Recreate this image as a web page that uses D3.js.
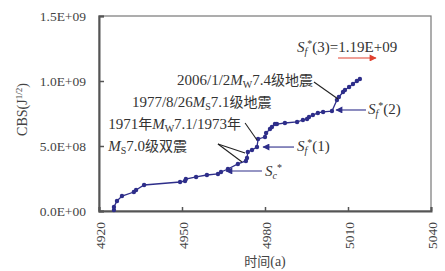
<!DOCTYPE html>
<html>
<head>
<meta charset="utf-8">
<script src="https://cdn.jsdelivr.net/npm/d3@7"></script>
<style>
  body { margin: 0; background: #fff; }
  text { font-family: "Liberation Serif", "Noto Sans CJK SC", serif; }
</style>
</head>
<body>
<svg id="chart" width="445" height="271"></svg>
<script>
// CBS curve
const years = [4925.4, 4925.4, 4926.5, 4928.3, 4932.6, 4933.4, 4936.3, 4949.3, 4951.1, 4951.4,
  4955.1, 4959.0, 4963.0, 4964.1, 4966.6, 4970.2, 4973.1, 4973.5, 4973.8, 4975.3,
  4977.1, 4977.5, 4980.0, 4980.4, 4981.8, 4982.5, 4983.6, 4984.3, 4987.2, 4991.6,
  4993.7, 4995.2, 4995.9, 4997.3, 4999.1, 5001.0, 5004.2, 5006.0, 5006.7, 5008.2,
  5008.9, 5010.4, 5011.8, 5013.2, 5014.3];
const cbs = [0.08, 0.31, 0.77, 1.15, 1.46, 1.62, 2.0, 2.23, 2.31, 2.46,
  2.62, 2.77, 2.85, 3.0, 3.23, 3.62, 3.85, 4.08, 4.54, 4.69,
  4.92, 5.54, 5.69, 6.0, 6.31, 6.46, 6.69, 6.69, 6.77, 6.85,
  7.0, 7.08, 7.23, 7.38, 7.54, 7.62, 7.69, 8.54, 8.77, 9.15,
  9.31, 9.54, 9.77, 10.0, 10.15].map(v => v * 1e8);

const xTicks = [4920, 4950, 4980, 5010, 5040];
const yTicks = [0, 5e8, 1e9, 1.5e9];
const yTickLabels = ["0.0E+00", "5.0E+08", "1.0E+09", "1.5E+09"];

const svg = d3.select("#chart");
const mLeft = 99, mRight = 431, mTop = 16, mBottom = 211;
const x = d3.scaleLinear().domain([4920, 5040]).range([mLeft, mRight]);
const y = d3.scaleLinear().domain([0, 1.5e9]).range([mBottom, mTop]);

const blue = "#2e2e8a";
const axisCol = "#555";

// frame
svg.append("rect")
  .attr("x", mLeft).attr("y", mTop)
  .attr("width", mRight - mLeft).attr("height", mBottom - mTop)
  .attr("fill", "none").attr("stroke", "#777").attr("stroke-width", 1.2);

// axes (ticks inward)
const xAxis = svg.append("g").attr("transform", `translate(0,${mBottom})`)
  .call(d3.axisTop(x).tickValues(xTicks).tickSize(4).tickFormat(""));
const yAxis = svg.append("g").attr("transform", `translate(${mLeft},0)`)
  .call(d3.axisRight(y).tickValues(yTicks).tickSize(5).tickFormat(""));
[xAxis, yAxis].forEach(g => {
  g.select(".domain").attr("stroke", axisCol).attr("stroke-width", 2);
  g.selectAll(".tick line").attr("stroke", axisCol).attr("stroke-width", 1.5);
});

// tick labels
svg.selectAll(".ylab").data(yTicks).enter().append("text")
  .attr("x", mLeft - 13).attr("y", d => y(d) + 4.5)
  .attr("text-anchor", "end").attr("font-size", 13.5).attr("fill", "#444")
  .text((d, i) => yTickLabels[i]);
svg.selectAll(".xlab").data(xTicks).enter().append("text")
  .attr("transform", d => `translate(${x(d) + 6},${mBottom + 11}) rotate(-90)`)
  .attr("text-anchor", "end").attr("font-size", 13.5).attr("fill", "#444")
  .text(d => d);

// axis titles
const xt = svg.append("text").attr("x", (mLeft + mRight) / 2).attr("y", 266)
  .attr("text-anchor", "middle").attr("font-size", 14).attr("fill", "#444");
xt.append("tspan").attr("font-size", 13).text("时间");
xt.append("tspan").text("(a)");
const yt = svg.append("text")
  .attr("transform", `translate(27,${(mTop + mBottom) / 2 - 4}) rotate(-90)`)
  .attr("text-anchor", "middle").attr("font-size", 14).attr("fill", "#444");
yt.append("tspan").text("CBS(J");
yt.append("tspan").attr("dy", -5).attr("font-size", 9).text("1/2");
yt.append("tspan").attr("dy", 5).text(")");

// curve
const pts = years.map((d, i) => [d, cbs[i]]);
svg.append("path").datum(pts)
  .attr("fill", "none").attr("stroke", blue).attr("stroke-width", 1.3)
  .attr("d", d3.line().x(d => x(d[0])).y(d => y(d[1])));
svg.selectAll(".pt").data(pts).enter().append("circle")
  .attr("cx", d => x(d[0])).attr("cy", d => y(d[1])).attr("r", 2.2)
  .attr("fill", blue);

// arrow markers
const defs = svg.append("defs");
[["ab", blue], ["ar", "#e0402e"]].forEach(([id, c]) => {
  defs.append("marker").attr("id", id).attr("viewBox", "0 0 10 10")
    .attr("refX", 9).attr("refY", 5).attr("markerWidth", 8).attr("markerHeight", 7)
    .attr("markerUnits", "userSpaceOnUse").attr("orient", "auto")
    .append("path").attr("d", "M0,0L10,5L0,10z").attr("fill", c);
});

function arrow(x1, y1, x2, y2, col, marker) {
  svg.append("line")
    .attr("x1", x(x1)).attr("y1", y(y1)).attr("x2", x(x2)).attr("y2", y(y2))
    .attr("stroke", col).attr("stroke-width", 1.1)
    .attr("marker-end", marker ? `url(#${marker})` : null);
}

// labels with italic/sub/sup/cjk parts: [text, style]
function label(xv, yv, parts, size) {
  const t = svg.append("text").attr("x", x(xv)).attr("y", y(yv))
    .attr("font-size", size || 15).attr("fill", "#333");
  let shift = 0;
  parts.forEach(([s, st]) => {
    const sp = t.append("tspan").text(s);
    let target = 0;
    if (st && st.includes("sub")) target = 3;
    if (st && st.includes("sup")) target = -5;
    if (target !== shift) { sp.attr("dy", target - shift); shift = target; }
    if (st && st.includes("i")) sp.attr("font-style", "italic");
    if (st && (st.includes("sub") || st.includes("sup"))) sp.attr("font-size", 10);
    if (st && st.includes("cjk")) sp.attr("font-size", 14);
  });
}

// S_f*(3)
label(4991.6, 1.22e9, [["S", "i"], ["f", "i sub"], ["*", "sup"], ["(3)=1.19E+09", ""]]);
arrow(5006.4, 1.177e9, 5020.1, 1.177e9, "#e0402e", "ar");

// 2006 event
label(4948.2, 9.69e8, [["2006/1/2", ""], ["M", "i"], ["W", "sub"], ["7.4", ""], ["级地震", "cjk"]]);
arrow(4997.7, 9.92e8, 5006.4, 8.61e8, "#222", null);

// S_f*(2)
arrow(5016.5, 7.77e8, 5005.7, 7.77e8, blue, "ab");
label(5017.2, 7.46e8, [["S", "i"], ["f", "i sub"], ["*", "sup"], ["(2)", ""]]);

// 1977 event
label(4931.9, 8.0e8, [["1977/8/26", ""], ["M", "i"], ["S", "sub"], ["7.1", ""], ["级地震", "cjk"]]);
arrow(4972.8, 6.77e8, 4977.1, 5.46e8, "#222", null);

// 1971/1973 events
label(4923.3, 6.3e8, [["1971", ""], ["年", "cjk"], ["M", "i"], ["W", "sub"], ["7.1/1973", ""], ["年", "cjk"]]);
label(4923.3, 4.6e8, [["M", "i"], ["S", "sub"], ["7.0", ""], ["级双震", "cjk"]]);
arrow(4963.0, 5.15e8, 4971.7, 3.77e8, "#222", null);
arrow(4963.0, 5.15e8, 4972.8, 4.46e8, "#222", null);

// S_f*(1)
arrow(4990.5, 4.92e8, 4979.3, 4.92e8, blue, "ab");
label(4991.6, 4.6e8, [["S", "i"], ["f", "i sub"], ["*", "sup"], ["(1)", ""]]);

// S_c*
arrow(4978.9, 3.08e8, 4965.9, 3.08e8, blue, "ab");
label(4980.0, 2.69e8, [["S", "i"], ["c", "i sub"], ["*", "sup"]]);
</script>
</body>
</html>
